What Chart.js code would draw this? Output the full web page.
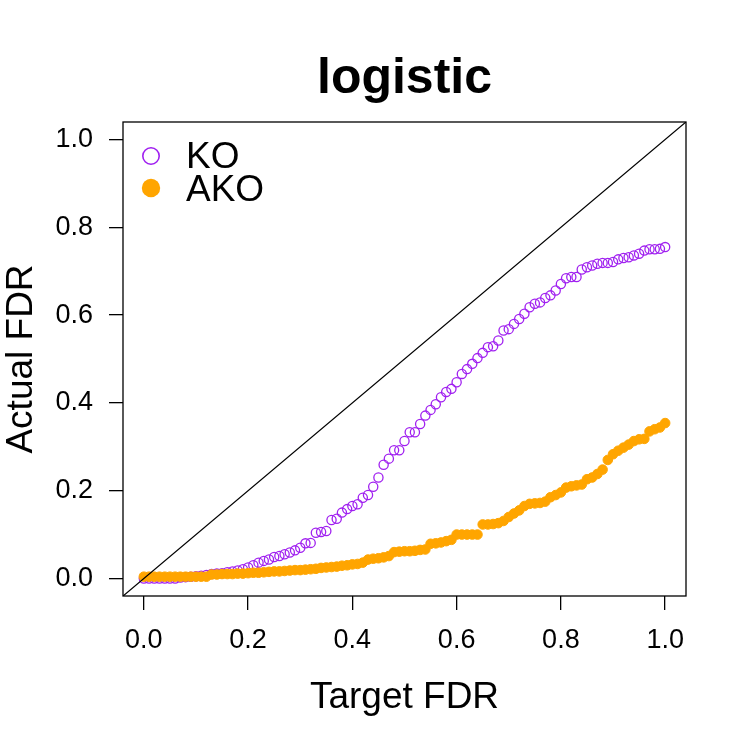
<!DOCTYPE html>
<html>
<head>
<meta charset="utf-8">
<script src="https://cdn.jsdelivr.net/npm/chart.js@4.4.1/dist/chart.umd.min.js"></script>
<style>
html,body{margin:0;padding:0;background:#fff;}
#c{display:block;}
</style>
</head>
<body>
<canvas id="c" width="750" height="750"></canvas>
<script>
const targetFDR = [0.00,0.01,0.02,0.03,0.04,0.05,0.06,0.07,0.08,0.09,
  0.10,0.11,0.12,0.13,0.14,0.15,0.16,0.17,0.18,0.19,
  0.20,0.21,0.22,0.23,0.24,0.25,0.26,0.27,0.28,0.29,
  0.30,0.31,0.32,0.33,0.34,0.35,0.36,0.37,0.38,0.39,
  0.40,0.41,0.42,0.43,0.44,0.45,0.46,0.47,0.48,0.49,
  0.50,0.51,0.52,0.53,0.54,0.55,0.56,0.57,0.58,0.59,
  0.60,0.61,0.62,0.63,0.64,0.65,0.66,0.67,0.68,0.69,
  0.70,0.71,0.72,0.73,0.74,0.75,0.76,0.77,0.78,0.79,
  0.80,0.81,0.82,0.83,0.84,0.85,0.86,0.87,0.88,0.89,
  0.90,0.91,0.92,0.93,0.94,0.95,0.96,0.97,0.98,0.99,1.00];

const koFDR = [0,0,0,0,0,0,0,0.002,0.003,0.004,
  0.005,0.006,0.008,0.010,0.011,0.012,0.014,0.016,0.018,0.021,
  0.025,0.030,0.036,0.040,0.043,0.049,0.051,0.055,0.059,0.064,
  0.070,0.080,0.081,0.104,0.106,0.108,0.133,0.136,0.150,0.158,
  0.165,0.169,0.184,0.190,0.209,0.230,0.259,0.273,0.292,0.292,
  0.313,0.333,0.333,0.352,0.371,0.384,0.397,0.413,0.425,0.432,
  0.447,0.466,0.477,0.489,0.502,0.514,0.527,0.529,0.542,0.565,
  0.568,0.580,0.591,0.603,0.618,0.626,0.629,0.639,0.645,0.656,
  0.671,0.684,0.687,0.687,0.704,0.709,0.713,0.717,0.719,0.719,
  0.721,0.727,0.730,0.732,0.736,0.740,0.747,0.750,0.750,0.751,0.755];

const akoFDR = [0.004,0.004,0.004,0.004,0.004,0.004,0.004,0.004,0.004,0.004,
  0.004,0.004,0.004,0.009,0.009,0.010,0.010,0.010,0.011,0.011,
  0.012,0.013,0.013,0.014,0.015,0.016,0.016,0.017,0.018,0.019,
  0.019,0.020,0.021,0.022,0.024,0.025,0.026,0.027,0.029,0.030,
  0.032,0.033,0.036,0.043,0.045,0.046,0.048,0.051,0.060,0.061,
  0.062,0.062,0.063,0.065,0.066,0.079,0.080,0.082,0.085,0.088,
  0.100,0.100,0.100,0.100,0.100,0.123,0.123,0.124,0.126,0.131,
  0.140,0.148,0.155,0.165,0.170,0.171,0.172,0.175,0.185,0.190,
  0.196,0.207,0.210,0.212,0.214,0.226,0.230,0.238,0.248,0.270,
  0.283,0.291,0.298,0.305,0.313,0.317,0.318,0.335,0.340,0.344,0.354];

const xTicks = [0, 0.2, 0.4, 0.6, 0.8, 1.0];
const yTicks = [0, 0.2, 0.4, 0.6, 0.8, 1.0];
const diagonal = [-0.04, 1.04];
const seriesNames = ['KO', 'AKO'];
const titleText = 'logistic';
const xTitle = 'Target FDR';
const yTitle = 'Actual FDR';

const PURPLE = '#A020F0';
const ORANGE = '#FFA500';
const FONT = "'Liberation Sans', Arial, Helvetica, sans-serif";

const decorPlugin = {
  id: 'decor',
  afterDraw(chart) {
    const ctx = chart.ctx;
    const a = chart.chartArea;
    ctx.save();
    ctx.strokeStyle = '#000';
    ctx.lineWidth = 1.3;
    ctx.strokeRect(a.left, a.top, a.right - a.left, a.bottom - a.top);
    ctx.fillStyle = '#000';
    ctx.font = 'bold 50px ' + FONT;
    ctx.textAlign = 'center';
    ctx.textBaseline = 'alphabetic';
    ctx.fillText(titleText, (a.left + a.right) / 2, 93);
    ctx.font = '37px ' + FONT;
    ctx.fillText(xTitle, (a.left + a.right) / 2, 708);
    ctx.save();
    ctx.translate(32, (a.top + a.bottom) / 2);
    ctx.rotate(-Math.PI / 2);
    ctx.fillText(yTitle, 0, 0);
    ctx.restore();
    ctx.textAlign = 'left';
    ctx.font = '37px ' + FONT;
    ctx.lineWidth = 1.6;
    ctx.strokeStyle = PURPLE;
    ctx.beginPath();
    ctx.arc(151, 156, 8.2, 0, Math.PI * 2);
    ctx.stroke();
    ctx.fillStyle = ORANGE;
    ctx.beginPath();
    ctx.arc(151, 188, 9.2, 0, Math.PI * 2);
    ctx.fill();
    ctx.fillStyle = '#000';
    ctx.fillText(seriesNames[0], 186, 168);
    ctx.fillText(seriesNames[1], 186, 201);
    ctx.restore();
  }
};

const tickFont = { size: 27, family: FONT };

new Chart(document.getElementById('c'), {
  type: 'scatter',
  data: {
    datasets: [
      {
        label: seriesNames[0],
        data: targetFDR.map((x, i) => ({ x: x, y: koFDR[i] })),
        pointRadius: 4.6,
        pointBorderWidth: 1.3,
        borderColor: PURPLE,
        backgroundColor: 'rgba(0,0,0,0)',
        order: 2
      },
      {
        label: seriesNames[1],
        data: targetFDR.map((x, i) => ({ x: x, y: akoFDR[i] })),
        pointRadius: 4.8,
        pointBorderWidth: 1,
        borderColor: ORANGE,
        backgroundColor: ORANGE,
        order: 1
      },
      {
        type: 'line',
        label: 'diag',
        data: diagonal.map(v => ({ x: v, y: v })),
        borderColor: '#000',
        borderWidth: 1.3,
        pointRadius: 0,
        fill: false,
        order: 0
      }
    ]
  },
  options: {
    responsive: false,
    animation: false,
    devicePixelRatio: 1,
    layout: { padding: { left: 0, top: 122, right: 64, bottom: 0 } },
    plugins: { legend: { display: false }, tooltip: { enabled: false }, title: { display: false } },
    scales: {
      x: {
        type: 'linear',
        min: -0.04,
        max: 1.04,
        afterBuildTicks: s => { s.ticks = xTicks.map(v => ({ value: v })); },
        afterFit: s => { s.height = 154; },
        ticks: { callback: v => Number(v).toFixed(1), font: tickFont, color: '#000', padding: 14, maxRotation: 0, autoSkip: false },
        grid: { display: true, drawOnChartArea: false, drawTicks: true, tickLength: 14, color: '#000', lineWidth: 1.3 },
        border: { display: false }
      },
      y: {
        type: 'linear',
        min: -0.04,
        max: 1.04,
        afterBuildTicks: s => { s.ticks = yTicks.map(v => ({ value: v })); },
        afterFit: s => { s.width = 123; },
        ticks: { callback: v => Number(v).toFixed(1), font: tickFont, color: '#000', padding: 16, autoSkip: false },
        grid: { display: true, drawOnChartArea: false, drawTicks: true, tickLength: 14, color: '#000', lineWidth: 1.3 },
        border: { display: false }
      }
    }
  },
  plugins: [decorPlugin]
});
</script>
</body>
</html>
